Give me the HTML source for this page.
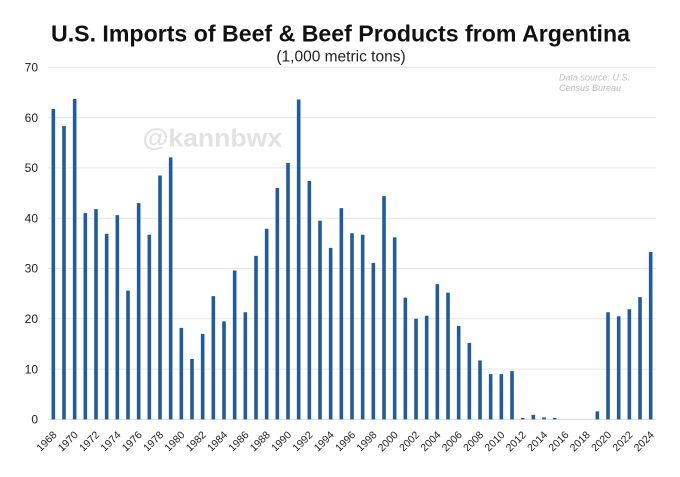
<!DOCTYPE html>
<html>
<head>
<meta charset="utf-8">
<style>
html,body{margin:0;padding:0;background:#fff;width:680px;height:477px;overflow:hidden}
svg{display:block}
text{font-family:"Liberation Sans",Arial,sans-serif}
</style>
</head>
<body>
<svg width="680" height="477" viewBox="0 0 680 477" xmlns="http://www.w3.org/2000/svg">
<rect width="680" height="477" fill="#fff"/>
<text x="340.5" y="41.7" text-anchor="middle" font-size="23.5" font-weight="bold" fill="#111" textLength="579" lengthAdjust="spacingAndGlyphs">U.S. Imports of Beef &amp; Beef Products from Argentina</text>
<text x="341" y="61.5" text-anchor="middle" font-size="15.5" fill="#222">(1,000 metric tons)</text>
<path d="M48 67.3H656M48 117.6H656M48 167.9H656M48 218.2H656M48 268.5H656M48 318.8H656M48 369.1H656" stroke="#e6e6e6" stroke-width="1" fill="none"/>
<path d="M48 419.4H656" stroke="#d9d9d9" stroke-width="1"/>
<text x="142.5" y="146.5" font-size="25" font-weight="bold" fill="#e2e2e2" textLength="139.5" lengthAdjust="spacingAndGlyphs">@kannbwx</text>
<text x="559" y="80.5" font-size="9" font-style="italic" fill="#bdbdbd">Data source: U.S.</text>
<text x="559" y="91" font-size="9" font-style="italic" fill="#bdbdbd">Census Bureau</text>
<g font-size="12" fill="#222" text-anchor="end"><text x="38" y="71.5">70</text><text x="38" y="121.8">60</text><text x="38" y="172.1">50</text><text x="38" y="222.4">40</text><text x="38" y="272.7">30</text><text x="38" y="323">20</text><text x="38" y="373.3">10</text><text x="38" y="423.6">0</text></g>
<path fill="#1f5c99" transform="translate(51.53,419.4) scale(10.667,-5.03)" d="M0 0h.3375v61.7h-.3375zM1 0h.3375v58.3h-.3375zM2 0h.3375v63.7h-.3375zM3 0h.3375v41h-.3375zM4 0h.3375v41.8h-.3375zM5 0h.3375v36.9h-.3375zM6 0h.3375v40.6h-.3375zM7 0h.3375v25.6h-.3375zM8 0h.3375v43h-.3375zM9 0h.3375v36.7h-.3375zM10 0h.3375v48.5h-.3375zM11 0h.3375v52.1h-.3375zM12 0h.3375v18.2h-.3375zM13 0h.3375v12h-.3375zM14 0h.3375v17h-.3375zM15 0h.3375v24.5h-.3375zM16 0h.3375v19.5h-.3375zM17 0h.3375v29.6h-.3375zM18 0h.3375v21.3h-.3375zM19 0h.3375v32.5h-.3375zM20 0h.3375v37.9h-.3375zM21 0h.3375v46h-.3375zM22 0h.3375v51h-.3375zM23 0h.3375v63.6h-.3375zM24 0h.3375v47.4h-.3375zM25 0h.3375v39.5h-.3375zM26 0h.3375v34.1h-.3375zM27 0h.3375v42h-.3375zM28 0h.3375v37h-.3375zM29 0h.3375v36.7h-.3375zM30 0h.3375v31.1h-.3375zM31 0h.3375v44.4h-.3375zM32 0h.3375v36.2h-.3375zM33 0h.3375v24.2h-.3375zM34 0h.3375v20h-.3375zM35 0h.3375v20.6h-.3375zM36 0h.3375v26.9h-.3375zM37 0h.3375v25.2h-.3375zM38 0h.3375v18.6h-.3375zM39 0h.3375v15.2h-.3375zM40 0h.3375v11.7h-.3375zM41 0h.3375v9h-.3375zM42 0h.3375v9h-.3375zM43 0h.3375v9.6h-.3375zM44 0h.3375v.3h-.3375zM45 0h.3375v.9h-.3375zM46 0h.3375v.4h-.3375zM47 0h.3375v.3h-.3375zM51 0h.3375v1.6h-.3375zM52 0h.3375v21.3h-.3375zM53 0h.3375v20.5h-.3375zM54 0h.3375v21.9h-.3375zM55 0h.3375v24.3h-.3375zM56 0h.3375v33.3h-.3375z"/>
<g font-size="10.5" fill="#222" text-anchor="end"><text transform="translate(57.33,435.5) rotate(-45)">1968</text><text transform="translate(78.67,435.5) rotate(-45)">1970</text><text transform="translate(100,435.5) rotate(-45)">1972</text><text transform="translate(121.33,435.5) rotate(-45)">1974</text><text transform="translate(142.67,435.5) rotate(-45)">1976</text><text transform="translate(164,435.5) rotate(-45)">1978</text><text transform="translate(185.33,435.5) rotate(-45)">1980</text><text transform="translate(206.67,435.5) rotate(-45)">1982</text><text transform="translate(228,435.5) rotate(-45)">1984</text><text transform="translate(249.33,435.5) rotate(-45)">1986</text><text transform="translate(270.67,435.5) rotate(-45)">1988</text><text transform="translate(292,435.5) rotate(-45)">1990</text><text transform="translate(313.33,435.5) rotate(-45)">1992</text><text transform="translate(334.67,435.5) rotate(-45)">1994</text><text transform="translate(356,435.5) rotate(-45)">1996</text><text transform="translate(377.33,435.5) rotate(-45)">1998</text><text transform="translate(398.67,435.5) rotate(-45)">2000</text><text transform="translate(420,435.5) rotate(-45)">2002</text><text transform="translate(441.33,435.5) rotate(-45)">2004</text><text transform="translate(462.67,435.5) rotate(-45)">2006</text><text transform="translate(484,435.5) rotate(-45)">2008</text><text transform="translate(505.33,435.5) rotate(-45)">2010</text><text transform="translate(526.67,435.5) rotate(-45)">2012</text><text transform="translate(548,435.5) rotate(-45)">2014</text><text transform="translate(569.33,435.5) rotate(-45)">2016</text><text transform="translate(590.67,435.5) rotate(-45)">2018</text><text transform="translate(612,435.5) rotate(-45)">2020</text><text transform="translate(633.33,435.5) rotate(-45)">2022</text><text transform="translate(654.67,435.5) rotate(-45)">2024</text></g>
</svg>
</body>
</html>
